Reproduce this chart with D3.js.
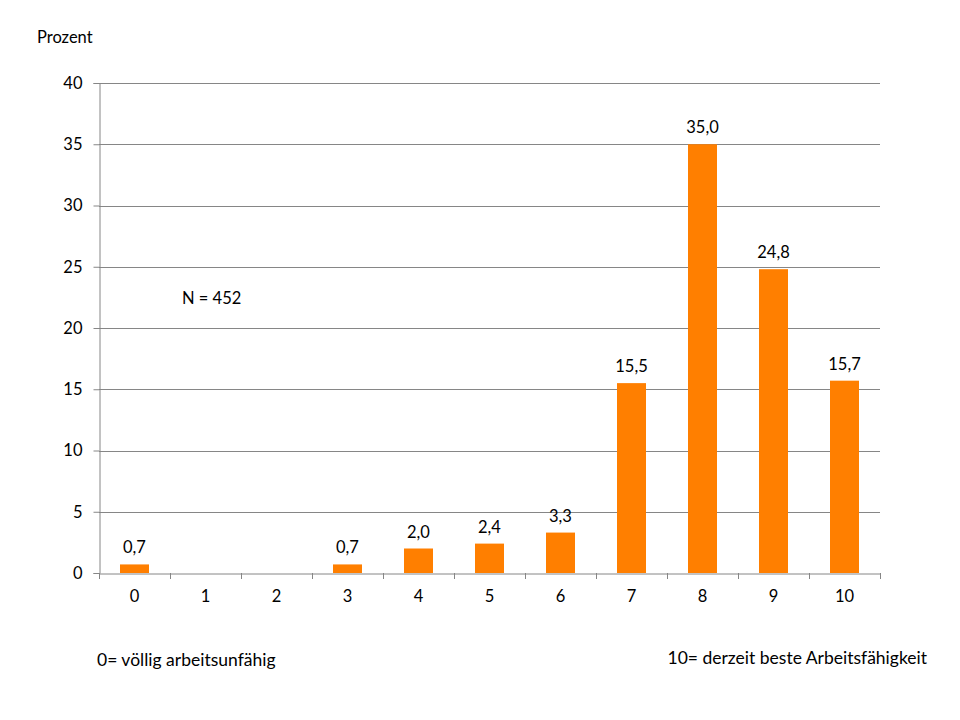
<!DOCTYPE html>
<html><head><meta charset="utf-8">
<script src="https://cdn.jsdelivr.net/npm/d3@7"></script>
<style>body{margin:0;background:#fff;} text{font-family:Lato,"Open Sans",sans-serif;fill:#000;}</style>
</head><body>
<svg id="c" width="960" height="720"></svg>
<script>
const categories = ["0","1","2","3","4","5","6","7","8","9","10"];
const values = [0.7, 0, 0, 0.7, 2.0, 2.4, 3.3, 15.5, 35.0, 24.8, 15.7];
const valueLabels = ["0,7", "", "", "0,7", "2,0", "2,4", "3,3", "15,5", "35,0", "24,8", "15,7"];
const yTicks = [0,5,10,15,20,25,30,35,40];

const svg = d3.select("#c");
const m = {l:99, r:880, t:83, b:573};
const x = d3.scaleBand().domain(categories).range([m.l, m.r]).paddingInner(0).paddingOuter(0);
const y = d3.scaleLinear().domain([0,40]).range([m.b, m.t]);
const gridColor = "#868686";
const fs = 16.5;

// gridlines
svg.append("g").selectAll("line").data(yTicks.filter(d=>d>0)).join("line")
  .attr("x1", m.l).attr("x2", m.r)
  .attr("y1", d=>Math.round(y(d))+0.5).attr("y2", d=>Math.round(y(d))+0.5)
  .attr("stroke", gridColor).attr("stroke-width",1);

// y axis
const ya = svg.append("g").attr("transform", `translate(${m.l+0.5},0)`)
  .call(d3.axisLeft(y).tickValues(yTicks).tickSize(6).tickPadding(11).tickFormat(d=>d));
ya.select(".domain").attr("stroke", gridColor);
ya.selectAll(".tick line").attr("stroke", gridColor);
ya.selectAll(".tick text").attr("font-size", fs).attr("font-family","Lato, 'Open Sans', sans-serif");

// bars
const bw = 29;
svg.append("g").selectAll("rect").data(values).join("rect")
  .attr("x", (d,i)=>x(categories[i]) + x.bandwidth()/2 - bw/2)
  .attr("width", bw)
  .attr("y", d=>y(d)).attr("height", d=>y(0)-y(d))
  .attr("fill", "#FF7F00");

// x axis
const xa = svg.append("g").attr("transform", `translate(0,${m.b+0.5})`)
  .call(d3.axisBottom(x).tickSize(0).tickPadding(17));
xa.select(".domain").attr("stroke", gridColor);
xa.selectAll(".tick text").attr("font-size", fs).attr("font-family","Lato, 'Open Sans', sans-serif");
// boundary ticks
const bounds = categories.map(c=>x(c)).concat([m.r]);
svg.append("g").selectAll("line").data(bounds).join("line")
  .attr("x1", d=>Math.round(d)+0.5).attr("x2", d=>Math.round(d)+0.5)
  .attr("y1", m.b).attr("y2", m.b+6).attr("stroke", gridColor);

// value labels
svg.append("g").selectAll("text").data(values).join("text")
  .attr("x", (d,i)=>x(categories[i]) + x.bandwidth()/2)
  .attr("y", d=>y(d) - 11)
  .attr("text-anchor","middle").attr("font-size",fs)
  .text((d,i)=>valueLabels[i]);

// texts
svg.append("text").attr("x",37).attr("y",43).attr("font-size",fs).text("Prozent");
svg.append("text").attr("x",182).attr("y",304).attr("font-size",fs).text("N = 452");
svg.append("text").attr("x",97).attr("y",666).attr("font-size",17.5).text("0= völlig arbeitsunfähig");
svg.append("text").attr("x",927).attr("y",664).attr("font-size",17.5).attr("text-anchor","end").text("10= derzeit beste Arbeitsfähigkeit");
</script>
</body></html>
